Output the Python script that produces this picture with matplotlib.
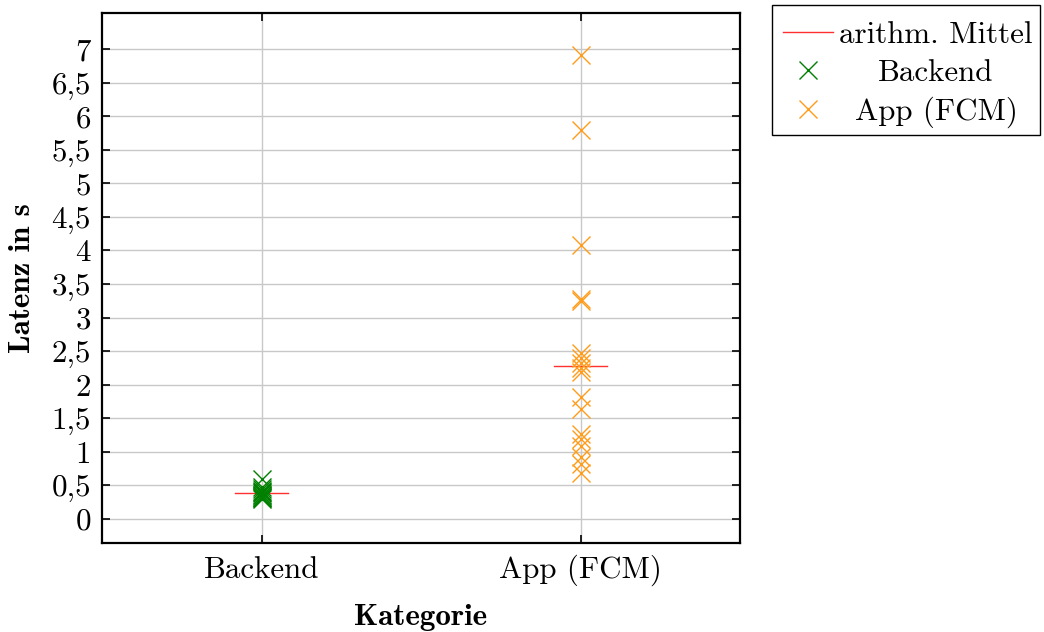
import numpy as np
import matplotlib.pyplot as plt
from matplotlib.patches import Rectangle
from matplotlib.ticker import FixedLocator, FixedFormatter

# data
categories = ['Backend', 'App (FCM)']
backend_lat = [0.60, 0.48, 0.45, 0.42, 0.40, 0.38, 0.36, 0.35, 0.33, 0.32, 0.31, 0.30]
app_lat = [6.91, 5.79, 4.08, 3.27, 3.24, 2.47, 2.40, 2.33, 2.25, 2.19,
           1.82, 1.63, 1.27, 1.19, 1.08, 0.92, 0.82, 0.68]
means = [0.38, 2.28]
yticks = np.arange(0, 7.01, 0.5)
ytick_labels = ['0', '0,5', '1', '1,5', '2', '2,5', '3', '3,5', '4', '4,5',
                '5', '5,5', '6', '6,5', '7']

plt.rcParams['font.family'] = 'cmr10'
plt.rcParams['axes.formatter.use_mathtext'] = True
fs = 22.3

fig = plt.figure(figsize=(10.44, 6.32), dpi=100)
ax = fig.add_axes([102/1044, 89/632, 638/1044, 530/632])

half = 0.083
for i, m in enumerate(means):
    ax.plot([i - half, i + half], [m, m], c='#ff3030', lw=1,
            label='arithm. Mittel' if i == 0 else None, zorder=3)
ax.plot(np.zeros(len(backend_lat)), backend_lat, ls='none', marker='x', ms=13,
        mew=1, c='#008000', label='Backend', zorder=4)
ax.plot(np.ones(len(app_lat)), app_lat, ls='none', marker='x', ms=13,
        mew=1, c='#ff9c1a', label='App (FCM)', zorder=4)

ax.set_xlim(-0.5, 1.5)
ax.set_ylim(-0.36, 7.54)
ax.set_xticks(range(len(categories)))
ax.set_xticklabels(categories)
ax.yaxis.set_major_locator(FixedLocator(yticks))
ax.yaxis.set_major_formatter(FixedFormatter(ytick_labels))
ax.tick_params(direction='in', length=6, width=1.2, labelsize=fs,
               top=True, right=True, pad=8)
ax.tick_params(axis='x', pad=25)
for lab in ax.get_xticklabels():
    lab.set_va('baseline')
ax.grid(True, color='#c8c8c8', lw=1)
ax.set_axisbelow(True)
for axis in ['top', 'bottom', 'left', 'right']:
    ax.spines[axis].set_linewidth(1.6)

ax.set_xlabel('Kategorie', fontfamily='cmb10', fontsize=fs, labelpad=13)
ax.set_ylabel('Latenz in s', fontfamily='cmb10', fontsize=fs, labelpad=11)

leg = ax.legend(loc='upper left', bbox_to_anchor=(783/1044, 1 - 21/632),
                bbox_transform=fig.transFigure, borderaxespad=0,
                fontsize=fs, frameon=False,
                handlelength=1.6, handletextpad=0.22, labelspacing=0.32,
                borderpad=0)
fig.add_artist(Rectangle((772/1044, 1 - 135/632), 268/1044, 130/632,
                         transform=fig.transFigure, fill=False,
                         edgecolor='black', lw=1))

# centre the legend texts like pgfplots does
fig.canvas.draw()
r = fig.canvas.get_renderer()
texts = leg.get_texts()
widths = [t.get_window_extent(r).width for t in texts]
wmax = max(widths)
for t, w in zip(texts, widths):
    t.set_x((wmax - w) / 2)

fig.savefig('out.png', dpi=100)
